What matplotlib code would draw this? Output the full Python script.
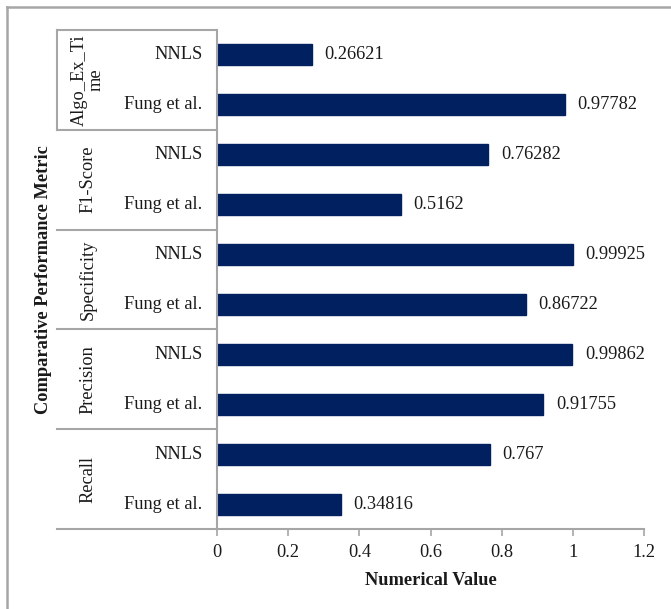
import matplotlib
matplotlib.use("Agg")
import matplotlib.pyplot as plt
from matplotlib.lines import Line2D

# Metrics listed from bottom group to top group
metrics = ["Recall", "Precision", "Specificity", "F1-Score", "Algo_Ex_Ti\nme"]
methods = ["Fung et al.", "NNLS"]
fung_values = [0.34816, 0.91755, 0.86722, 0.5162, 0.97782]
nnls_values = [0.767, 0.99862, 0.99925, 0.76282, 0.26621]
x_ticks = [0, 0.2, 0.4, 0.6, 0.8, 1, 1.2]

bar_color = "#002060"
line_color = "#a6a6a6"
text_color = "#1a1a1a"
serif = ["Liberation Serif", "DejaVu Serif"]
fs = 13.2

fig = plt.figure(figsize=(6.71, 6.09), dpi=100)
ax = fig.add_axes([217 / 671, 1 - 529 / 609, (644 - 217) / 671, (529 - 30) / 609])

n_groups = len(metrics)
total = 2 * n_groups
# bars are listed top to bottom: NNLS then Fung et al. within each metric
labels, values = [], []
for g in reversed(range(n_groups)):
    labels.append(methods[1]); values.append(nnls_values[g])
    labels.append(methods[0]); values.append(fung_values[g])
ypos = [i + 0.5 for i in range(total)]

ax.barh(ypos, values, height=0.42, color=bar_color, edgecolor=bar_color)
for y, v in zip(ypos, values):
    ax.annotate(f"{v:g}", xy=(v, y), xytext=(9, 0), textcoords="offset points",
                ha="left", va="center", fontsize=fs, family=serif, color=text_color)

ax.set_xlim(0, 1.2)
ax.set_ylim(total, 0)
ax.set_xticks(x_ticks)
ax.set_xticklabels([f"{t:g}" for t in x_ticks], family=serif, fontsize=fs, color=text_color)
ax.tick_params(axis="x", direction="out", length=5, width=1.2, color=line_color, pad=6)
ax.set_yticks([])
for side in ["top", "right"]:
    ax.spines[side].set_visible(False)
for side in ["left", "bottom"]:
    ax.spines[side].set_color(line_color)
    ax.spines[side].set_linewidth(1.5)

# inner category labels (method names)
trans = ax.get_yaxis_transform()
for y, lab in zip(ypos, labels):
    ax.annotate(lab, xy=(0, y), xycoords=trans, xytext=(-10.5, 0), textcoords="offset points",
                ha="right", va="center", fontsize=fs, family=serif, color=text_color,
                annotation_clip=False)

# outer category labels (metric names) and separators
sep_x0 = (57 - 217) / (644 - 217)
for k in range(n_groups):
    g = n_groups - 1 - k
    yc = 2 * k + 1
    ax.text((88 - 217) / (644 - 217), yc, metrics[g], transform=trans, rotation=90,
            ha="center", va="center", fontsize=fs, family=serif, color=text_color,
            linespacing=1.0, clip_on=False)
for b in range(n_groups + 1):
    yb = 2 * b
    ax.add_line(Line2D([sep_x0, 0], [yb, yb], transform=trans, color=line_color,
                       lw=1.5, clip_on=False))
ax.add_line(Line2D([sep_x0, sep_x0], [0, 2], transform=trans, color=line_color,
                   lw=1.5, clip_on=False))

ax.set_xlabel("Numerical Value", family=serif, fontsize=fs, fontweight="bold",
              color=text_color, labelpad=8)
fig.text(44 / 671, 1 - 280 / 609, "Comparative Performance Metric", rotation=90,
         ha="center", va="center", family=serif, fontsize=fs, fontweight="bold",
         color=text_color)

# chart frame (extends past the right and bottom edges)
fig.add_artist(Line2D([7 / 671, 7 / 671], [0, 1 - 7 / 609], transform=fig.transFigure,
                      color=line_color, lw=1.8))
fig.add_artist(Line2D([7 / 671, 1], [1 - 7 / 609, 1 - 7 / 609], transform=fig.transFigure,
                      color=line_color, lw=1.8))

fig.savefig("out.png", dpi=100, facecolor="white")
